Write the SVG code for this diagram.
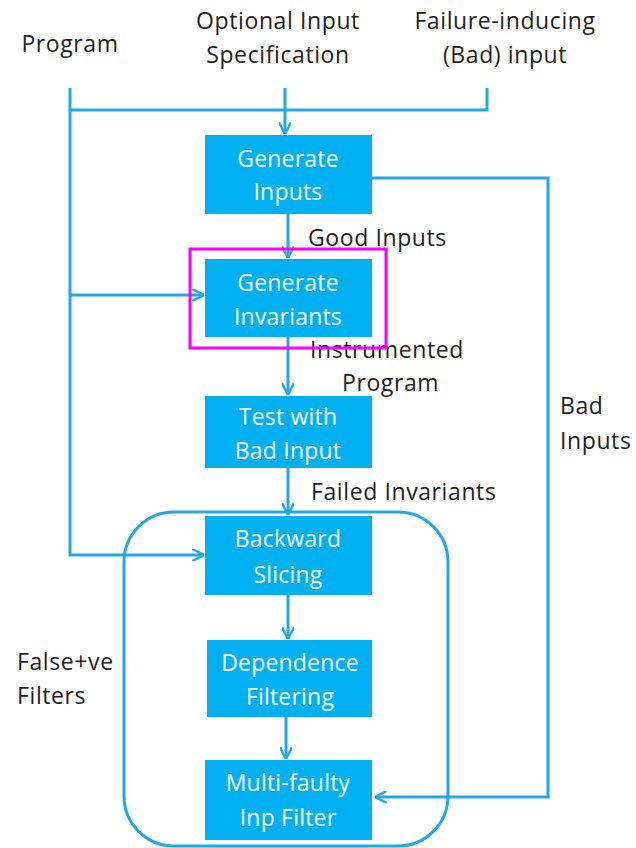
<svg xmlns="http://www.w3.org/2000/svg" width="636" height="848" viewBox="0 0 636 848">
<style>
.box{fill:#00B0F0;}
.bt{font-family:"Open Sans",sans-serif;font-size:23px;fill:#fff;text-anchor:middle;letter-spacing:0.2px;}
.lbl{font-family:"Open Sans",sans-serif;font-size:23px;fill:#222;letter-spacing:0.6px;}
.c{text-anchor:middle;}
.ln{fill:none;stroke:#23A7E6;stroke-width:3;}
</style>
<defs>
<marker id="ah" viewBox="0 0 10 10" refX="9" refY="5" markerWidth="4" markerHeight="4" orient="auto" markerUnits="strokeWidth">
<path d="M0,0 L10,5 L0,10" fill="none" stroke="#23A7E6" stroke-width="2"/>
</marker>
</defs>
<rect width="636" height="848" fill="#fff"/>
<g id="labels">
<text class="lbl c" x="70" y="52">Program</text>
<text class="lbl c" x="278" y="29">Optional Input</text>
<text class="lbl c" x="278" y="63">Specification</text>
<text class="lbl c" x="505" y="29">Failure-inducing</text>
<text class="lbl c" x="505" y="63">(Bad) input</text>
<text class="lbl" x="308" y="246">Good Inputs</text>
<text class="lbl" x="310" y="358">Instrumented</text>
<text class="lbl" x="342" y="391">Program</text>
<text class="lbl" x="560" y="414">Bad</text>
<text class="lbl" x="560" y="449">Inputs</text>
<text class="lbl" x="311" y="500">Failed Invariants</text>
<text class="lbl" x="17" y="670">False+ve</text>
<text class="lbl" x="17" y="704">Filters</text>
</g>
<g id="group-filters">
<rect x="124" y="512" width="324" height="334" rx="50" ry="50" class="ln" stroke-width="2"/>
</g>
<g id="connectors">
<path class="ln" d="M70,88 V555 H203" marker-end="url(#ah)"/>
<path class="ln" d="M70,110 H487 V88"/>
<path class="ln" d="M285,88 V133" marker-end="url(#ah)"/>
<path class="ln" d="M70,295 H203" marker-end="url(#ah)"/>
<path class="ln" d="M372,178 H548 V797 H376" marker-end="url(#ah)"/>
<path class="ln" d="M288,214 V257" marker-end="url(#ah)"/>
<path class="ln" d="M288,337 V394" marker-end="url(#ah)"/>
<path class="ln" d="M288,468 V514" marker-end="url(#ah)"/>
<path class="ln" d="M288,595 V638" marker-end="url(#ah)"/>
<path class="ln" d="M286,717 V758" marker-end="url(#ah)"/>
</g>
<g id="gen-inputs">
<rect class="box" x="205" y="135" width="167" height="79"/>
<text class="bt" x="288" y="167">Generate</text>
<text class="bt" x="288" y="200">Inputs</text>
</g>
<g id="gen-invariants">
<rect class="box" x="205" y="259" width="167" height="78"/>
<text class="bt" x="288" y="291">Generate</text>
<text class="bt" x="288" y="325">Invariants</text>
</g>
<g id="highlight">
<rect x="190" y="249" width="196" height="99" fill="none" stroke="#FF00FF" stroke-width="3"/>
</g>
<g id="test-bad">
<rect class="box" x="205" y="396" width="167" height="72"/>
<text class="bt" x="288" y="425">Test with</text>
<text class="bt" x="288" y="459">Bad Input</text>
</g>
<g id="backward">
<rect class="box" x="205" y="516" width="167" height="79"/>
<text class="bt" x="288" y="547">Backward</text>
<text class="bt" x="288" y="583">Slicing</text>
</g>
<g id="dependence">
<rect class="box" x="207" y="640" width="165" height="77"/>
<text class="bt" x="290" y="671">Dependence</text>
<text class="bt" x="290" y="705">Filtering</text>
</g>
<g id="multifaulty">
<rect class="box" x="205" y="760" width="167" height="80"/>
<text class="bt" x="288" y="791">Multi-faulty</text>
<text class="bt" x="288" y="826">Inp Filter</text>
</g>
</svg>
